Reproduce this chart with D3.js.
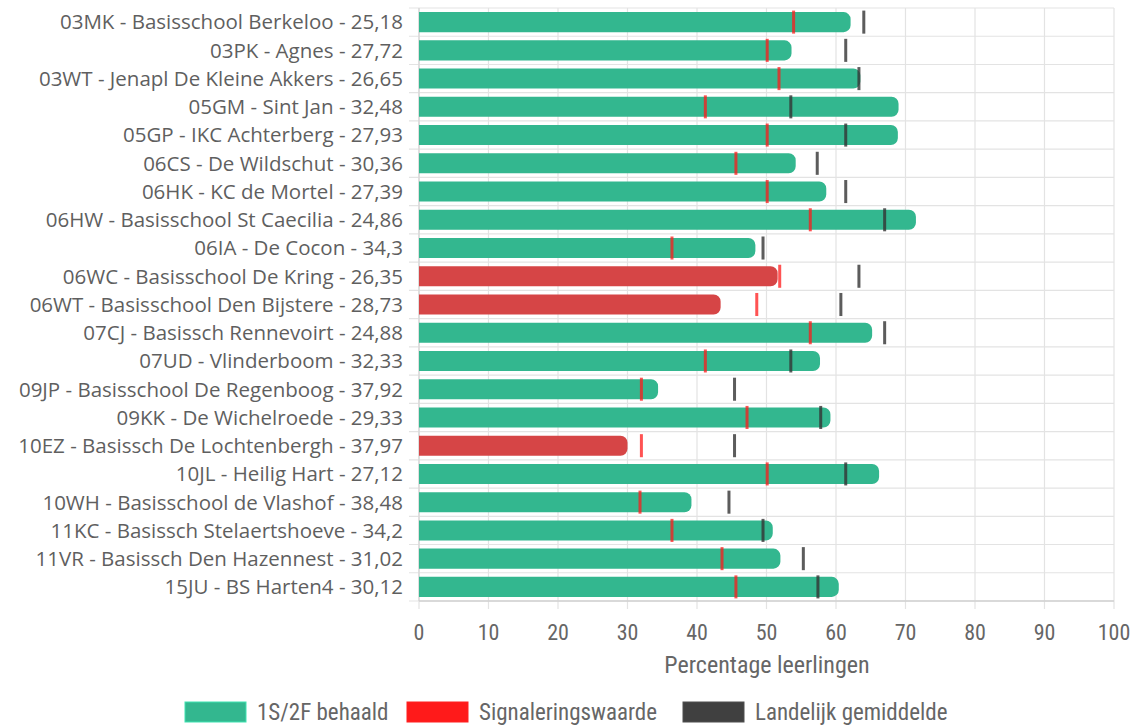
<!DOCTYPE html>
<html><head><meta charset="utf-8">
<script src="https://cdn.jsdelivr.net/npm/d3@7/dist/d3.min.js"></script>
<style>
html,body{margin:0;padding:0;background:#fff;}
svg{display:block;}
</style></head>
<body>
<svg id="chart" width="1138" height="725"></svg>
<script>
const categories = [
  "03MK - Basisschool Berkeloo - 25,18",
  "03PK - Agnes - 27,72",
  "03WT - Jenapl De Kleine Akkers - 26,65",
  "05GM - Sint Jan - 32,48",
  "05GP - IKC Achterberg - 27,93",
  "06CS - De Wildschut - 30,36",
  "06HK - KC de Mortel - 27,39",
  "06HW - Basisschool St Caecilia - 24,86",
  "06IA - De Cocon - 34,3",
  "06WC - Basisschool De Kring - 26,35",
  "06WT - Basisschool Den Bijstere - 28,73",
  "07CJ - Basissch Rennevoirt - 24,88",
  "07UD - Vlinderboom - 32,33",
  "09JP - Basisschool De Regenboog - 37,92",
  "09KK - De Wichelroede - 29,33",
  "10EZ - Basissch De Lochtenbergh - 37,97",
  "10JL - Heilig Hart - 27,12",
  "10WH - Basisschool de Vlashof - 38,48",
  "11KC - Basissch Stelaertshoeve - 34,2",
  "11VR - Basissch Den Hazennest - 31,02",
  "15JU - BS Harten4 - 30,12"
];
const behaald = [62.1, 53.6, 63.5, 69.0, 68.9, 54.2, 58.6, 71.5, 48.4, 51.6, 43.4, 65.2, 57.7, 34.4, 59.2, 30.0, 66.2, 39.2, 50.9, 52.0, 60.4];
const signalering = [53.9, 50.1, 51.8, 41.2, 50.1, 45.6, 50.1, 56.3, 36.4, 51.9, 48.6, 56.3, 41.2, 32.0, 47.2, 32.0, 50.1, 31.8, 36.4, 43.6, 45.6];
const landelijk = [64.0, 61.4, 63.3, 53.5, 61.4, 57.3, 61.4, 67.0, 49.5, 63.3, 60.7, 67.0, 53.5, 45.4, 57.8, 45.4, 61.4, 44.6, 49.5, 55.3, 57.4];
const xTicks = [0, 10, 20, 30, 40, 50, 60, 70, 80, 90, 100];
const xTitle = "Percentage leerlingen";
const legendItems = ["1S/2F behaald", "Signaleringswaarde", "Landelijk gemiddelde"];

const GREEN = "#33b78f", RED_BAR = "#d64546";
const legendColors = [GREEN, "#ff1a1a", "#404040"];
const labelFont = "'Open Sans', 'Noto Sans', sans-serif";
const narrowFont = "'Liberation Sans Narrow', 'Roboto Condensed', 'DejaVu Sans Condensed', sans-serif";

const svg = d3.select("#chart");
const x = d3.scaleLinear().domain([0, 100]).range([419, 1114]);
const y = d3.scaleBand().domain(categories).range([8, 601]).paddingInner(0.29).paddingOuter(0.145);
const step = y.step();
const plotTop = 8, plotBottom = 601;

// vertical gridlines
svg.append("g").selectAll("line").data(xTicks).join("line")
  .attr("x1", d => x(d)).attr("x2", d => x(d))
  .attr("y1", plotTop).attr("y2", plotBottom + 8)
  .attr("stroke", "#e3e3e3").attr("stroke-width", 1.2);

// horizontal band separators
const seps = d3.range(categories.length + 1);
svg.append("g").selectAll("line").data(seps).join("line")
  .attr("x1", 409).attr("x2", x(100))
  .attr("y1", i => plotTop + i * step).attr("y2", i => plotTop + i * step)
  .attr("stroke", "#e3e3e3").attr("stroke-width", 1.2);

// axis lines
svg.append("line").attr("x1", x(0)).attr("x2", x(0)).attr("y1", plotTop).attr("y2", plotBottom)
  .attr("stroke", "#d6d6d6").attr("stroke-width", 1.2);
svg.append("line").attr("x1", x(0)).attr("x2", x(100)).attr("y1", plotBottom).attr("y2", plotBottom)
  .attr("stroke", "#d0d0d0").attr("stroke-width", 1.4);

const rows = categories.map((c, i) => ({c, v: behaald[i], s: signalering[i], l: landelijk[i]}));

// bars with rounded right end
function barPath(d) {
  const x0 = x(0), x1 = x(d.v), y0 = y(d.c), h = y.bandwidth();
  const r = Math.min(7, (x1 - x0) / 2);
  return `M${x0},${y0}H${x1 - r}A${r},${r} 0 0 1 ${x1},${y0 + r}V${y0 + h - r}A${r},${r} 0 0 1 ${x1 - r},${y0 + h}H${x0}Z`;
}
svg.append("g").selectAll("path").data(rows).join("path")
  .attr("d", barPath)
  .attr("fill", d => d.v < d.s ? RED_BAR : GREEN);

// markers
const mh = y.bandwidth() + 3;
svg.append("g").selectAll("rect").data(rows).join("rect")
  .attr("x", d => x(d.l) - 1.5).attr("width", 3)
  .attr("y", d => y(d.c) + y.bandwidth() / 2 - mh / 2).attr("height", mh)
  .attr("fill", "#333").attr("fill-opacity", 0.8);
svg.append("g").selectAll("rect").data(rows).join("rect")
  .attr("x", d => x(d.s) - 1.5).attr("width", 3)
  .attr("y", d => y(d.c) + y.bandwidth() / 2 - mh / 2).attr("height", mh)
  .attr("fill", "#ff1a1a").attr("fill-opacity", 0.75);

// category labels
svg.append("g").selectAll("text").data(categories).join("text")
  .attr("x", 403).attr("y", d => y(d) + y.bandwidth() / 2)
  .attr("dy", "0.36em").attr("text-anchor", "end")
  .attr("font-family", labelFont).attr("font-size", 20.5)
  .attr("fill", "#5f5f5f").text(d => d);

// x axis ticks
svg.append("g").selectAll("text").data(xTicks).join("text")
  .attr("x", d => x(d)).attr("y", 640).attr("text-anchor", "middle")
  .attr("font-family", narrowFont).attr("font-size", 22)
  .attr("fill", "#666").text(d => d);

svg.append("text").attr("x", 767).attr("y", 673).attr("text-anchor", "middle")
  .attr("font-family", narrowFont).attr("font-size", 24)
  .attr("fill", "#666").text(xTitle);

// legend
const legX = [185, 407, 683];
const lg = svg.append("g");
legendItems.forEach((t, i) => {
  lg.append("rect").attr("x", legX[i]).attr("y", 702).attr("width", 61).attr("height", 20)
    .attr("fill", legendColors[i]).attr("stroke", d3.color(legendColors[i]).brighter(0.6)).attr("stroke-width", 1);
  lg.append("text").attr("x", legX[i] + 72).attr("y", 720)
    .attr("font-family", narrowFont).attr("font-size", 23)
    .attr("fill", "#666").text(t);
});
</script>
</body></html>
